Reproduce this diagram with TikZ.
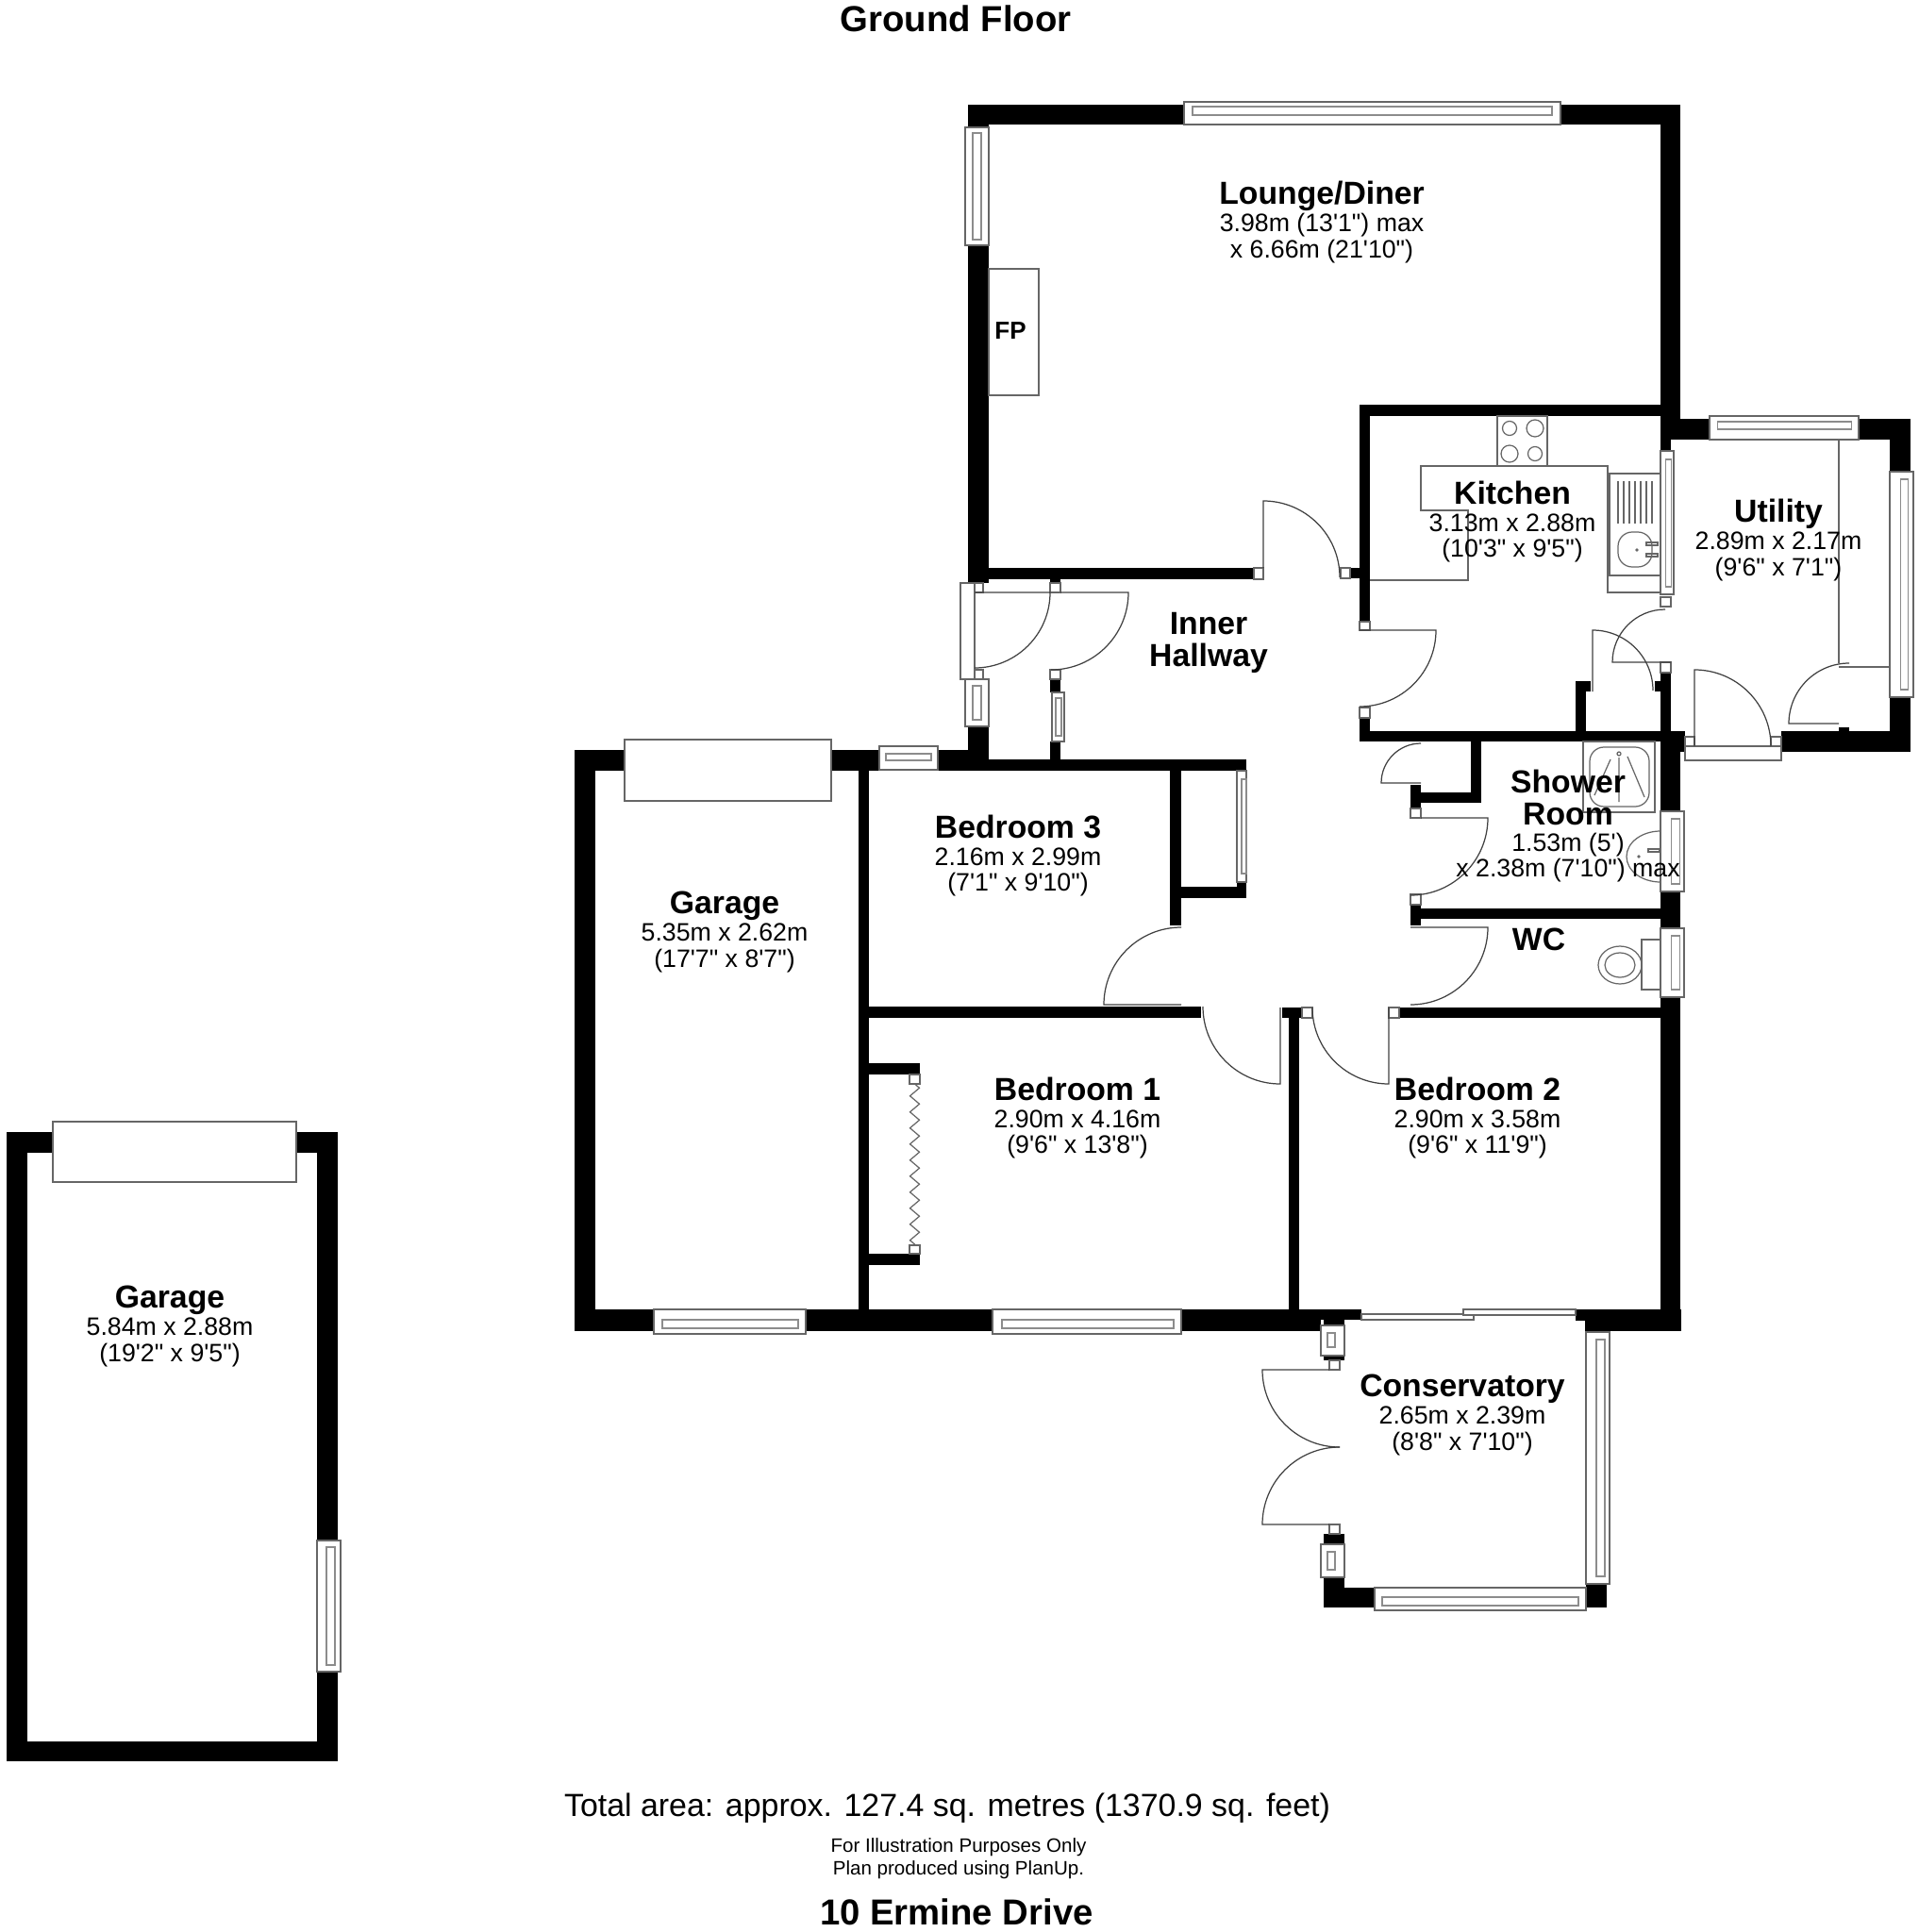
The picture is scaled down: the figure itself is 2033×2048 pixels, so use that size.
\documentclass[tikz,border=0pt]{standalone}
\usepackage{fontspec}
\setmainfont[Ligatures=TeXOff]{Liberation Sans}
\usetikzlibrary{decorations.pathmorphing}
\newcommand{\roomname}[1]{{\fontsize{9.6}{7.8}\selectfont\bfseries #1}\\[.4pt]}
\begin{document}
\begin{tikzpicture}[x=.1mm,y=-.1mm]
\path [use as bounding box] (0,0) rectangle (2033,2048);
\tikzstyle{wall} = [fill=black]
\tikzstyle{frame} = [draw=black!60, fill=white, line width=.35pt]
\tikzstyle{pane} = [draw=black!45, line width=.3pt]
\tikzstyle{fitting} = [draw=black!60, line width=.35pt]
\tikzstyle{swing} = [draw=black!75, line width=.35pt]
\tikzstyle{room} = [align=center, inner sep=0pt, font=\fontsize{7.6}{7.8}\selectfont]
\tikzstyle{boldroom} = [room, font=\fontsize{9.6}{9.7}\selectfont\bfseries]
\tikzstyle{heading} = [inner sep=0pt, font=\fontsize{10.9}{12}\selectfont\bfseries]
\foreach \xa/\ya/\xb/\yb in {
1026/111/1255/132, 1654/111/1781/132, 1760/111/1781/444, 1026/111/1048/135, 1026/260/1048/618,
1048/602/1329/614, 1113/612/1124/618, 1026/770/1048/817, 1113/720/1124/734, 1113/786/1124/805,
994/795/1048/817, 1048/805/1321/817,
1441/429/1760/441, 1441/429/1452/659, 1431/602/1441/613, 1441/761/1452/775, 1441/775/1786/786,
1760/444/1812/466, 1970/444/2025/466, 1760/444/1771/478, 2003/444/2025/500, 2003/739/2025/797,
1888/775/2025/797, 1949/771/1960/775, 1760/713/1771/775, 1754/722/1760/733, 1670/733/1681/775, 1670/722/1686/733,
1760/786/1786/797, 1760/797/1781/860, 1760/945/1781/984, 1760/1057/1781/1388,
1559/786/1570/851, 1495/840/1570/851, 1495/832/1506/857, 1495/959/1506/981, 1506/963/1760/974,
1483/1068/1760/1079, 1359/1068/1380/1079, 1366/1079/1377/1388,
910/817/921/1388, 921/1067/1273/1079, 1240/817/1252/981, 1252/940/1321/952, 1311/935/1321/940,
921/1127/975/1139, 921/1329/975/1341,
609/795/662/817, 881/795/932/817, 609/795/631/1411, 631/1388/693/1411, 854/1388/1052/1411,
1252/1388/1443/1399, 1252/1399/1400/1411, 1403/1399/1425/1405,
1670/1388/1782/1400, 1680/1400/1782/1411,
1403/1437/1425/1442, 1403/1626/1425/1637, 1403/1672/1425/1704, 1425/1683/1457/1704, 1681/1679/1703/1704,
7/1200/56/1222, 314/1200/358/1222, 7/1200/29/1867, 29/1846/358/1867, 336/1200/358/1633, 336/1772/358/1846}
  \fill[wall] (\xa,\ya) rectangle (\xb,\yb);
\foreach \xa/\ya/\xb/\yb/\xc/\yc/\xd/\yd in {
1255/108/1654/132/1264/113/1645/122, 1023/135/1048/260/1031/141/1040/254,
1023/720/1048/770/1031/727/1040/763, 1115/734/1128/786/1119/740/1125/780,
1812/441/1970/466/1820/447/1962/455, 2003/500/2028/739/2014/508/2022/731,
1760/478/1774/630/1765/487/1771/622, 1760/860/1785/945/1771/868/1780/937,
1760/984/1785/1057/1771/992/1780/1049, 1311/817/1321/935/1316/826/1321/926,
932/791/994/816/939/799/987/806, 693/1388/854/1414/702/1399/846/1408,
1052/1388/1252/1414/1062/1399/1244/1408, 1681/1412/1706/1679/1692/1420/1701/1671,
1457/1683/1681/1707/1465/1693/1673/1702, 1400/1405/1425/1437/1407/1413/1415/1428,
1400/1637/1425/1672/1407/1645/1415/1664, 336/1633/361/1772/346/1640/355/1765}
{
  \draw[frame] (\xa,\ya) rectangle (\xb,\yb);
  \draw[pane] (\xc,\yc) rectangle (\xd,\yd);
}
\foreach \xa/\ya/\xb/\yb in {
1329/602/1339/614, 1421/602/1431/613, 1441/659/1452/668, 1441/750/1452/761,
1033/618/1042/628, 1033/710/1042/720, 1113/618/1124/628, 1113/710/1124/720,
1760/633/1771/643, 1760/702/1771/713, 1786/781/1796/791, 1877/781/1888/791,
1495/857/1506/867, 1495/948/1506/959, 1472/1068/1483/1079, 1380/1068/1391/1079,
964/1139/975/1149, 964/1320/975/1329, 1409/1442/1420/1452, 1409/1616/1420/1626,
1018/618/1033/720, 1786/791/1888/806, 662/784/881/849, 56/1189/314/1253,
1443/1393/1562/1399, 1551/1388/1670/1394}
  \draw[frame] (\xa,\ya) rectangle (\xb,\yb);
\draw[swing] (1339,602) -- (1339,531) arc[start angle=90, end angle=0, radius=8.1mm];
\draw[swing] (1441,668) -- (1522,668) arc[start angle=0, end angle=-90, radius=8.1mm];
\draw[swing] (1033,628) -- (1113,628) arc[start angle=0, end angle=-90, radius=8mm];
\draw[swing] (1124,628) -- (1196,628) arc[start angle=0, end angle=-90, radius=8.2mm];
\draw[swing] (1765,646) arc[start angle=90, end angle=180, radius=5.6mm] -- (1771,702);
\draw[swing] (1688,733) -- (1688,668) arc[start angle=90, end angle=0, radius=6.4mm];
\draw[swing] (1960,703) arc[start angle=90, end angle=180, radius=6.4mm] -- (1949,767);
\draw[swing] (1796,791) -- (1796,710) arc[start angle=90, end angle=0, radius=8.1mm];
\draw[swing] (1506,788) arc[start angle=90, end angle=180, radius=4.2mm] -- (1506,830);
\draw[swing] (1506,867) -- (1577,867) arc[start angle=0, end angle=-90, radius=8.2mm];
\draw[swing] (1495,983) -- (1577,983) arc[start angle=0, end angle=-90, radius=8.2mm];
\draw[swing] (1472,1068) -- (1472,1149) arc[start angle=-90, end angle=-180, radius=8.1mm];
\draw[swing] (1357,1068) -- (1357,1149) arc[start angle=-90, end angle=-180, radius=8.2mm];
\draw[swing] (1252,983) arc[start angle=90, end angle=180, radius=8.2mm] -- (1252,1065);
\draw[swing] (1409,1452) -- (1338,1452) arc[start angle=180, end angle=270, radius=8.2mm];
\draw[swing] (1409,1616) -- (1338,1616) arc[start angle=180, end angle=90, radius=8.2mm];
\draw[fitting] (1048,285) rectangle (1101,419);
\draw[fitting] (1587,441) rectangle (1640,494);
\draw[fitting] (1600,454) circle[radius=.75mm] (1627,454) circle[radius=.9mm] (1600,481) circle[radius=.9mm] (1627,481) circle[radius=.75mm];
\draw[fitting] (1452,615) -- (1556,615) -- (1556,541) -- (1506,541) -- (1506,494) -- (1704,494) -- (1704,628) -- (1760,628);
\draw[fitting] (1706,502) rectangle (1760,610);
\foreach \xa in {1715,1721,1727,1733,1739,1745,1751}
  \draw[fitting] (\xa,510) -- (\xa,555);
\draw[fitting, rounded corners=1.5mm] (1715,564) rectangle (1751,601);
\draw[fitting] (1735,583) circle[radius=.1mm];
\draw[fitting] (1745,575) rectangle (1757,578) (1745,587) rectangle (1757,590);
\draw[fitting] (1949,467) -- (1949,703) (1949,707) -- (2003,707);
\draw[fitting] (1678,786) rectangle (1754,861);
\draw[fitting, rounded corners=1.5mm] (1685,792) rectangle (1748,855);
\draw[fitting] (1716,799) circle[radius=.2mm];
\draw[fitting] (1716,803) -- (1716,850) (1707,805) -- (1690,843) (1725,802) -- (1743,845);
\draw[fitting] (1760,881) arc[start angle=90, end angle=270, x radius=3.6mm, y radius=2.7mm];
\draw[fitting] (1747,900) rectangle (1759,903);
\draw[fitting] (1737,908) circle[radius=.1mm];
\draw[fitting] (1740,996) rectangle (1760,1049);
\draw[fitting] (1717,1023) ellipse[x radius=2.3mm, y radius=2mm] (1717,1023) ellipse[x radius=1.6mm, y radius=1.3mm];
\draw[fitting, decorate, decoration={zigzag, segment length=1.7mm, amplitude=.5mm}] (969.5,1149) -- (969.5,1320);
\node[heading] (title) at (1013,20) {Ground Floor};
\node[room] (lounge) at (1401,235.5) {\roomname{Lounge/Diner}3.98m (13'1") max\\x 6.66m (21'10")};
\node[inner sep=0pt, font=\fontsize{7.4}{8}\selectfont\bfseries] (fp) at (1071,351) {FP};
\node[room] (kitchen) at (1603,553) {\roomname{Kitchen}3.13m x 2.88m\\(10'3" x 9'5")};
\node[room] (utility) at (1885,572.5) {\roomname{Utility}2.89m x 2.17m\\(9'6" x 7'1")};
\node[boldroom] (hallway) at (1281,681) {Inner\\Hallway};
\node[boldroom] (showername) at (1662,845) {Shower\\Room};
\node[room] (shower) at (1662,909) {1.53m (5')\\x 2.38m (7'10") max};
\node[boldroom] (wc) at (1631,995.5) {WC};
\node[room] (bedthree) at (1079,907) {\roomname{Bedroom 3}2.16m x 2.99m\\(7'1" x 9'10")};
\node[room] (garage) at (768,988) {\roomname{Garage}5.35m x 2.62m\\(17'7" x 8'7")};
\node[room] (bedone) at (1142,1185) {\roomname{Bedroom 1}2.90m x 4.16m\\(9'6" x 13'8")};
\node[room] (bedtwo) at (1566,1185) {\roomname{Bedroom 2}2.90m x 3.58m\\(9'6" x 11'9")};
\node[room] (conservatory) at (1550,1500) {\roomname{Conservatory}2.65m x 2.39m\\(8'8" x 7'10")};
\node[room] (garagetwo) at (180,1406) {\roomname{Garage}5.84m x 2.88m\\(19'2" x 9'5")};
\node[inner sep=0pt, font=\fontsize{9.65}{12}\selectfont] (area) at (1004,1917) {Total area: approx. 127.4 sq. metres (1370.9 sq. feet)};
\node[inner sep=0pt, align=center, font=\fontsize{5.85}{6.8}\selectfont] (note) at (1016,1970) {For Illustration Purposes Only\\Plan produced using PlanUp.};
\node[heading] (address) at (1014,2027) {10 Ermine Drive};
\end{tikzpicture}
\end{document}
